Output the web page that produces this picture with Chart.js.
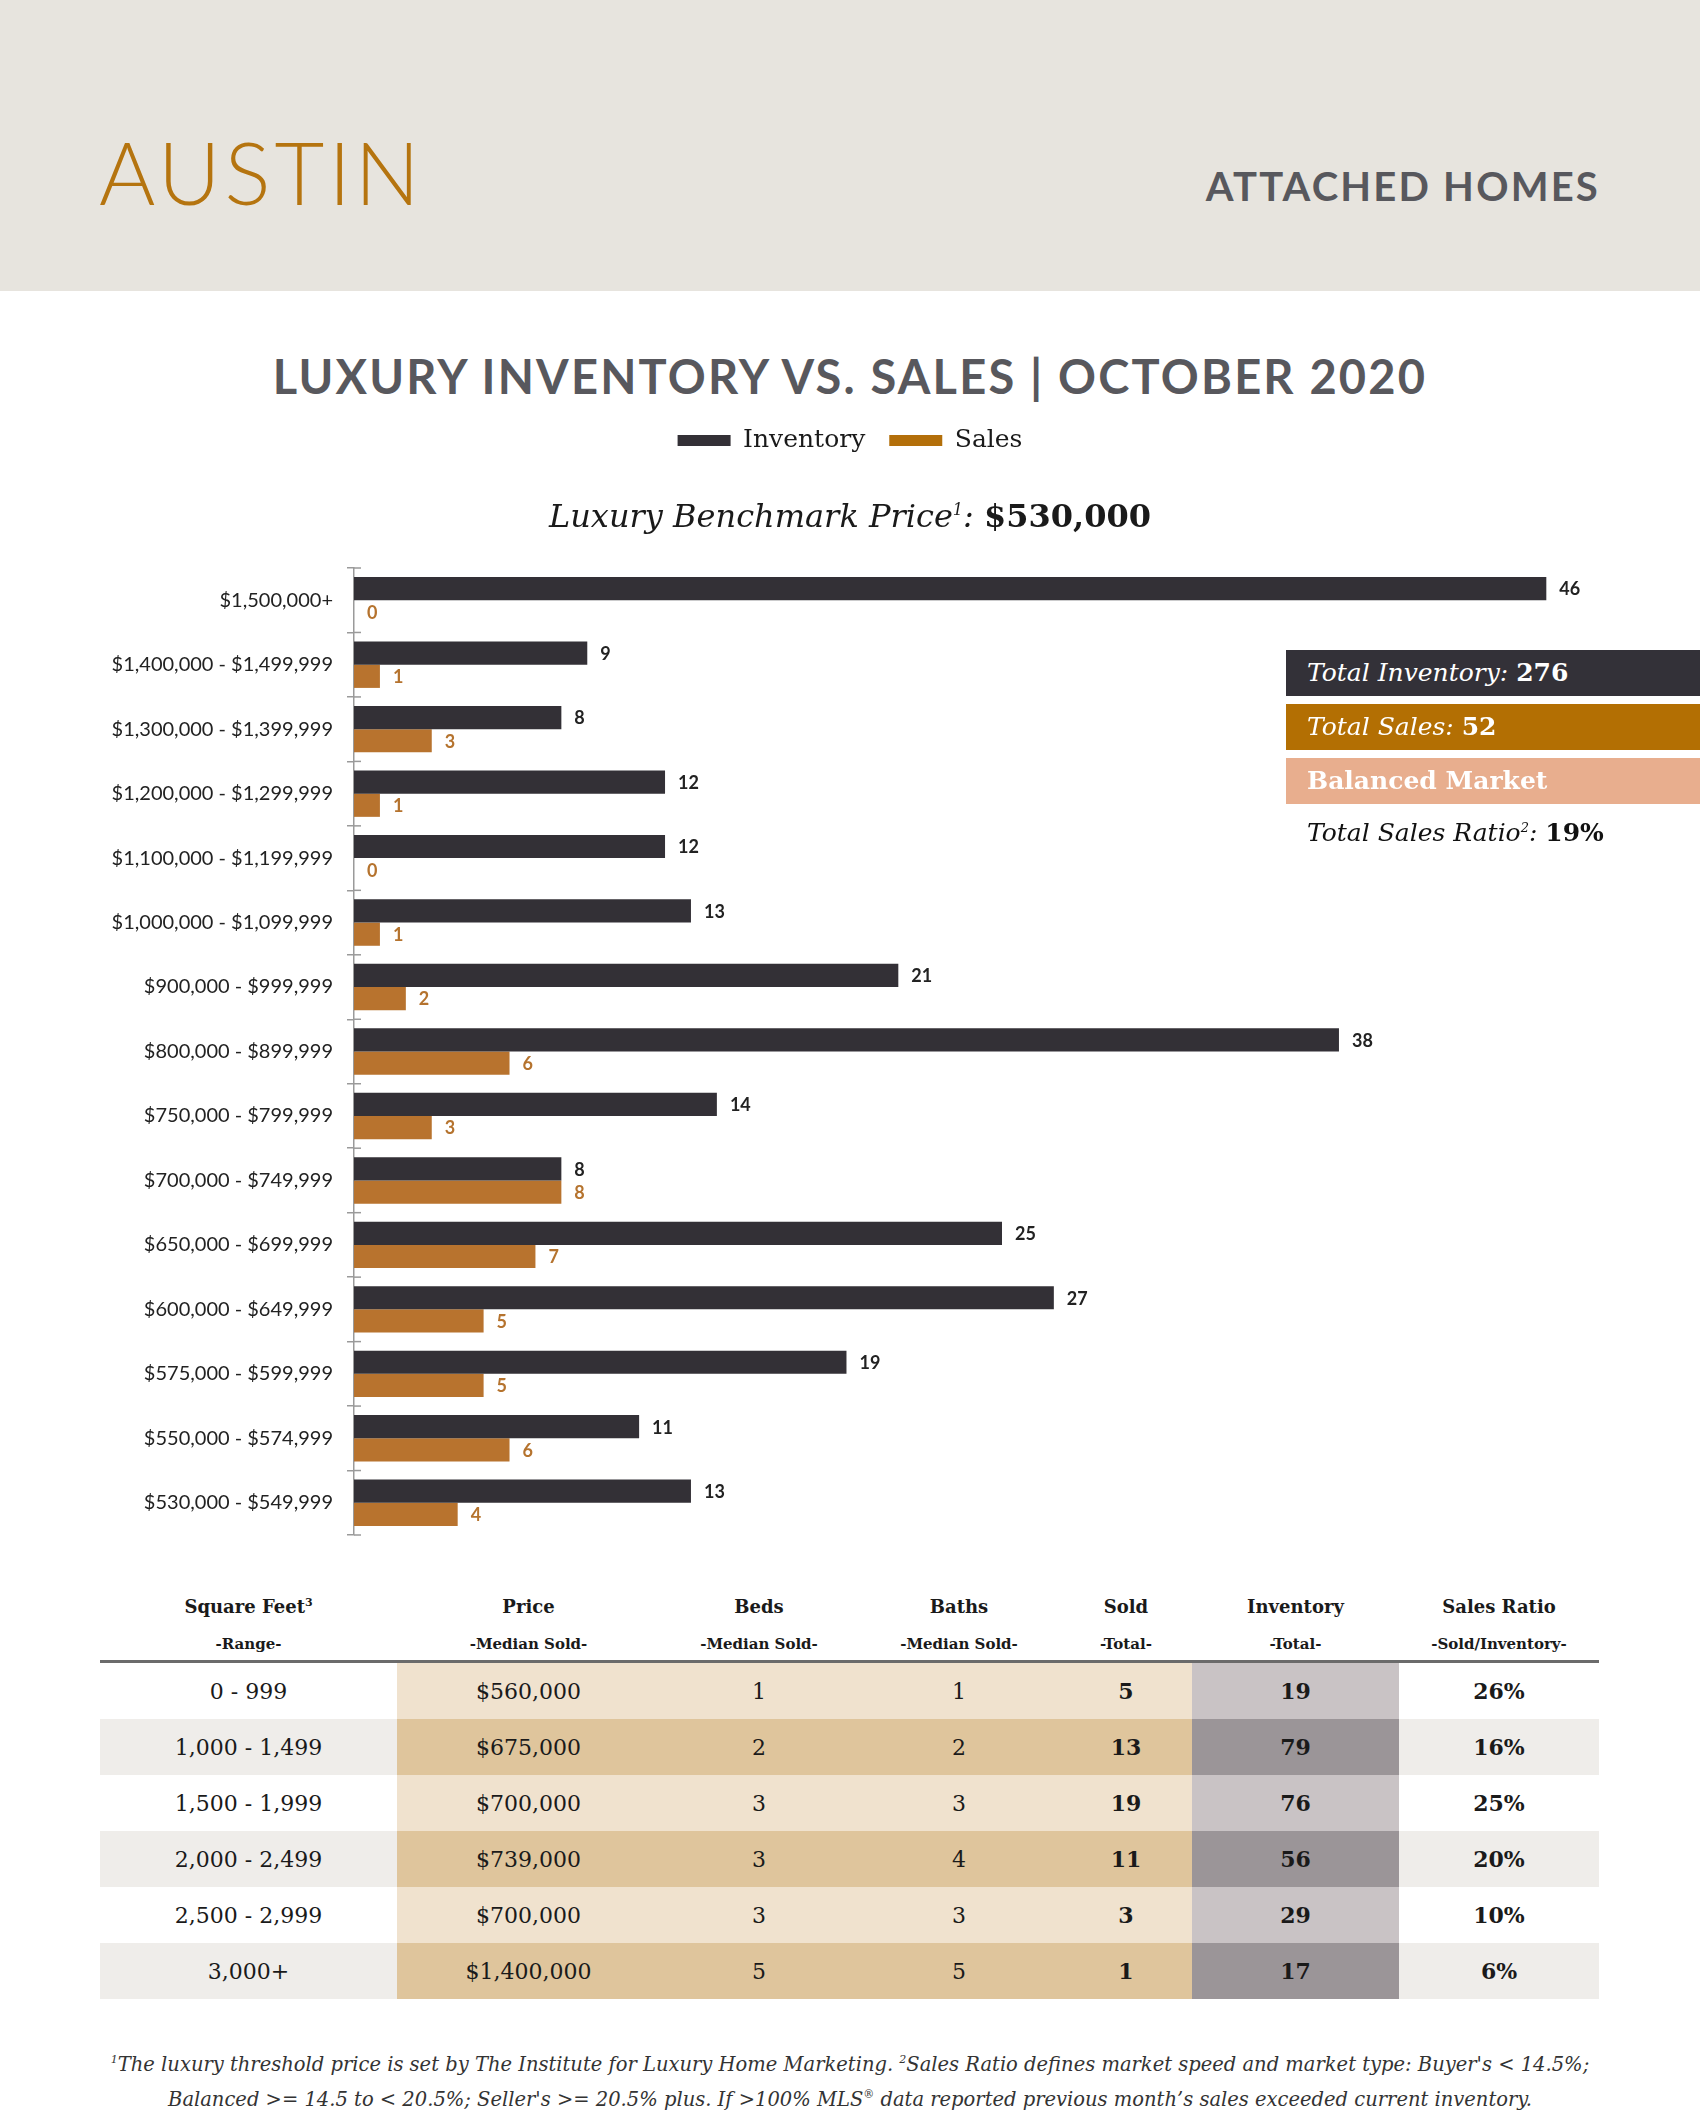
<!DOCTYPE html>
<html>
<head>
<meta charset="utf-8">
<script src="https://cdn.jsdelivr.net/npm/chart.js@4"></script>
<style>
  body { margin: 0; background: #fff; }
  #page { position: relative; width: 1700px; height: 2119px; overflow: hidden; background: #fff; }
  #header { position: absolute; left: 0; top: 0; width: 1700px; height: 291px; background: #e7e4de; }
  #city { position: absolute; left: 99px; top: 122px; font-family: Lato, sans-serif; font-weight: 300; font-size: 86px; line-height: 100px; letter-spacing: 4px; color: #b5740f; }
  #kind { position: absolute; right: 100px; top: 161px; font-family: Lato, sans-serif; font-weight: 700; font-size: 40px; line-height: 50px; letter-spacing: 2.2px; color: #58585d; }
  #title { position: absolute; left: 0; width: 1700px; top: 346px; text-align: center; font-family: Lato, sans-serif; font-weight: 700; font-size: 47px; line-height: 60px; letter-spacing: 2.2px; color: #58585d; }
  #bench { position: absolute; left: 0; width: 1700px; top: 488px; text-align: center; font-family: "DejaVu Serif", serif; font-style: italic; font-size: 32px; line-height: 44px; color: #1a1a1a; }
  #bench b { font-style: normal; font-weight: 700; }
  #chartWrap { position: absolute; left: 0; top: 404px; width: 1700px; height: 1157px; }
  .side { position: absolute; left: 1286px; width: 414px; height: 46px; box-sizing: border-box; padding-left: 21px; font-family: "DejaVu Serif", serif; font-size: 25px; line-height: 46px; color: #fff; font-style: italic; }
  .side b { font-style: normal; }
  #tbl { position: absolute; left: 100px; top: 1580px; width: 1499px; border-collapse: collapse; font-family: "DejaVu Serif", serif; color: #1a1a1a; }
  #tbl th { font-weight: 700; font-size: 18px; padding: 0; height: 80px; vertical-align: top; text-align: center; border-bottom: 3px solid #6b6b6b; }
  #tbl th span { display: block; font-size: 15px; font-weight: 700; margin-top: 18px; }
  #tbl th .h1 { display: block; font-size: 18px; margin-top: 16px; }
  #tbl td { height: 56px; padding: 0; text-align: center; font-size: 22px; }
  #foot { position: absolute; left: 0; width: 1700px; top: 2045px; text-align: center; font-family: "DejaVu Serif", serif; font-style: italic; font-size: 19.5px; line-height: 30px; color: #333; }
</style>
</head>
<body>
<div id="page">
  <div id="header">
    <div id="city">AUSTIN</div>
    <div id="kind">ATTACHED HOMES</div>
  </div>
  <div id="title">LUXURY INVENTORY VS. SALES | OCTOBER 2020</div>
  <div id="chartWrap"><canvas id="barChart" width="1700" height="1157"></canvas></div>
  <div id="bench">Luxury Benchmark Price<sup style="font-size:16px">1</sup>: <b>$530,000</b></div>

  <div class="side" style="top:650px;background:#333138;">Total Inventory: <b>276</b></div>
  <div class="side" style="top:704px;background:#b36f03;">Total Sales: <b>52</b></div>
  <div class="side" style="top:758px;background:#e8ae8e;font-style:normal;font-weight:700;font-size:25px;">Balanced Market</div>
  <div class="side" style="top:805px;color:#111;">Total Sales Ratio<sup style="font-size:13px">2</sup>: <b>19%</b></div>

  <table id="tbl"></table>

  <div id="foot"><sup style="font-size:11px">1</sup>The luxury threshold price is set by The Institute for Luxury Home Marketing. <sup style="font-size:11px">2</sup>Sales Ratio defines market speed and market type: Buyer's &lt; 14.5%;<br>Balanced &gt;= 14.5 to &lt; 20.5%; Seller's &gt;= 20.5% plus. If &gt;100% MLS<sup style="font-size:11px">®</sup> data reported previous month’s sales exceeded current inventory.</div>
</div>

<script>
// Chart data (top to bottom as in the picture)
const priceRanges = [
  "$1,500,000+", "$1,400,000 - $1,499,999", "$1,300,000 - $1,399,999",
  "$1,200,000 - $1,299,999", "$1,100,000 - $1,199,999", "$1,000,000 - $1,099,999",
  "$900,000 - $999,999", "$800,000 - $899,999", "$750,000 - $799,999",
  "$700,000 - $749,999", "$650,000 - $699,999", "$600,000 - $649,999",
  "$575,000 - $599,999", "$550,000 - $574,999", "$530,000 - $549,999"
];
const inventory = [46, 9, 8, 12, 12, 13, 21, 38, 14, 8, 25, 27, 19, 11, 13];
const sales = [0, 1, 3, 1, 0, 1, 2, 6, 3, 8, 7, 5, 5, 6, 4];

// Table data
const sqftRanges = ["0 - 999", "1,000 - 1,499", "1,500 - 1,999", "2,000 - 2,499", "2,500 - 2,999", "3,000+"];
const medianPrice = ["$560,000", "$675,000", "$700,000", "$739,000", "$700,000", "$1,400,000"];
const medianBeds = [1, 2, 3, 3, 3, 5];
const medianBaths = [1, 2, 3, 4, 3, 5];
const soldTotal = [5, 13, 19, 11, 3, 1];
const inventoryTotal = [19, 79, 76, 56, 29, 17];
const salesRatio = ["26%", "16%", "25%", "20%", "10%", "6%"];

const INV_COLOR = "#333036";
const SALES_COLOR = "#b8732e";
const LEGEND_COLORS = ["#333036", "#b36f0a"];

// Build the table
(function buildTable() {
  const tbl = document.getElementById("tbl");
  const widths = [297, 263, 198, 202, 132, 207, 200];
  const heads = [
    ["Square Feet<sup style='font-size:11px'>3</sup>", "-Range-"],
    ["Price", "-Median Sold-"],
    ["Beds", "-Median Sold-"],
    ["Baths", "-Median Sold-"],
    ["Sold", "-Total-"],
    ["Inventory", "-Total-"],
    ["Sales Ratio", "-Sold/Inventory-"]
  ];
  let html = "<colgroup>" + widths.map(w => `<col style="width:${w}px">`).join("") + "</colgroup>";
  html += "<tr>" + heads.map(h => `<th><span class="h1">${h[0]}</span><span>${h[1]}</span></th>`).join("") + "</tr>";
  sqftRanges.forEach((r, i) => {
    const alt = i % 2 === 1;
    const plain = alt ? "#efedea" : "#ffffff";
    const beige = alt ? "#dfc59c" : "#f0e2ce";
    const grey = alt ? "#9b9598" : "#c9c3c5";
    html += "<tr>" +
      `<td style="background:${plain}">${r}</td>` +
      `<td style="background:${beige}">${medianPrice[i]}</td>` +
      `<td style="background:${beige}">${medianBeds[i]}</td>` +
      `<td style="background:${beige}">${medianBaths[i]}</td>` +
      `<td style="background:${beige};font-weight:700">${soldTotal[i]}</td>` +
      `<td style="background:${grey};font-weight:700">${inventoryTotal[i]}</td>` +
      `<td style="background:${plain};font-weight:700">${salesRatio[i]}</td>` +
      "</tr>";
  });
  tbl.innerHTML = html;
})();

// Make room between the legend and the plot, and centre the legend on the page
const legendSpacer = {
  id: "legendSpacer",
  beforeInit(chart) {
    const origFit = chart.legend.fit;
    chart.legend.fit = function() {
      origFit.bind(chart.legend)();
      this.height = 164;
      this.lineWidths = this.lineWidths.map(w => w - 50);
    };
  }
};

// Value labels at the end of each bar
const barLabels = {
  id: "barLabels",
  afterDatasetsDraw(chart) {
    const ctx = chart.ctx;
    ctx.save();
    ctx.font = "700 18px Lato, sans-serif";
    ctx.textBaseline = "middle";
    ctx.textAlign = "left";
    chart.data.datasets.forEach((ds, di) => {
      const meta = chart.getDatasetMeta(di);
      ctx.fillStyle = di === 0 ? "#222" : "#b5732e";
      meta.data.forEach((bar, j) => {
        ctx.fillText(String(ds.data[j]), bar.x + 13, bar.y + 1);
      });
    });
    ctx.restore();
  }
};

// Short tick marks crossing into the plot at each category boundary
const innerTicks = {
  id: "innerTicks",
  afterDraw(chart) {
    const area = chart.chartArea;
    const n = chart.data.labels.length;
    const step = area.height / n;
    const ctx = chart.ctx;
    ctx.save();
    ctx.strokeStyle = "#9a9a9a";
    ctx.lineWidth = 1.5;
    for (let i = 0; i <= n; i++) {
      const y = area.top + i * step;
      ctx.beginPath();
      ctx.moveTo(area.left, y);
      ctx.lineTo(area.left + 7, y);
      ctx.stroke();
    }
    ctx.restore();
  }
};

new Chart(document.getElementById("barChart"), {
  type: "bar",
  data: {
    labels: priceRanges,
    datasets: [
      { label: "Inventory", data: inventory, backgroundColor: INV_COLOR, borderWidth: 0 },
      { label: "Sales", data: sales, backgroundColor: SALES_COLOR, borderWidth: 0 }
    ]
  },
  options: {
    indexAxis: "y",
    responsive: false,
    devicePixelRatio: 1,
    animation: false,
    layout: { padding: { left: 0, right: 50, top: 0, bottom: 12 } },
    datasets: { bar: { categoryPercentage: 0.72, barPercentage: 1.0 } },
    plugins: {
      legend: {
        position: "top",
        labels: {
          boxWidth: 53,
          boxHeight: 11,
          padding: 24,
          color: "#1a1a1a",
          font: { family: "'DejaVu Serif', serif", size: 25 },
          generateLabels(chart) {
            const items = Chart.defaults.plugins.legend.labels.generateLabels(chart);
            items.forEach((it, i) => { it.fillStyle = LEGEND_COLORS[i]; it.lineWidth = 0; });
            return items;
          }
        }
      },
      tooltip: { enabled: false }
    },
    scales: {
      x: { min: 0, max: 50, display: false },
      y: {
        afterFit(scale) { scale.width = 354; },
        border: { display: true, color: "#9a9a9a", width: 1.5 },
        grid: { drawOnChartArea: false, tickLength: 7, color: "#9a9a9a", lineWidth: 1.5 },
        ticks: {
          padding: 14,
          color: "#222",
          font: { family: "Lato, sans-serif", size: 20 }
        }
      }
    }
  },
  plugins: [legendSpacer, barLabels, innerTicks]
});
</script>
</body>
</html>
